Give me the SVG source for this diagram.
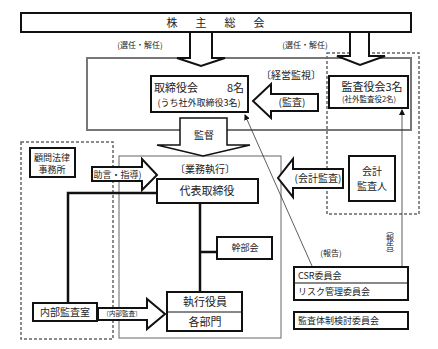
<svg xmlns="http://www.w3.org/2000/svg" width="438" height="349" viewBox="0 0 438 349">
<style>
text{font-family:"Noto Sans CJK JP","Noto Sans",sans-serif;fill:#222;}
.n{fill:#fff;stroke:#111;stroke-width:2;}
.arr{fill:#fff;stroke:#111;stroke-width:2;stroke-linejoin:miter;}
.area{fill:none;stroke:#777;stroke-width:2;}
.area2{fill:none;stroke:#666;stroke-width:1;}
.dot{fill:none;stroke:#666;stroke-width:1.5;stroke-dasharray:3 2;}
.ln{fill:none;stroke:#111;stroke-width:2.5;}
.thin{fill:none;stroke:#333;stroke-width:0.8;}
.t11{font-size:11px;}
.t10{font-size:10px;}
.t9{font-size:9px;}
.t8{font-size:8px;}
.t7{font-size:6.5px;}
</style>
<defs>
<marker id="ah" markerWidth="6" markerHeight="6" refX="5" refY="3" orient="auto" markerUnits="userSpaceOnUse">
<path d="M0,0 L6,3 L0,6 z" fill="#111"/>
</marker>
</defs>
<rect width="438" height="349" fill="#fff"/>

<g id="areas">
<rect class="area" x="87" y="58" width="324" height="72"/>
<rect class="area2" x="119" y="156" width="162" height="182"/>
<rect class="dot" x="327" y="53" width="92" height="161"/>
<rect class="dot" x="21" y="142" width="92" height="197"/>
</g>

<g id="connectors">
<polyline class="ln" points="157,193 68,193 68,303"/>
<line class="ln" x1="200" y1="203" x2="200" y2="292"/>
<line class="ln" x1="200" y1="252" x2="217" y2="252"/>
<line class="thin" x1="312" y1="266" x2="245" y2="115" marker-end="url(#ah)"/>
<line class="thin" x1="402" y1="266" x2="402" y2="110" marker-end="url(#ah)"/>
<text class="t8" x="331" y="256" text-anchor="middle">(報告)</text>
<text class="t8" x="390" y="226" style="writing-mode:vertical-rl">（報告）</text>
</g>

<g id="arrows">
<polygon class="arr" points="190,32 212,32 212,58 225,58 201,66 177,58 190,58"/>
<text class="t8" x="140" y="48" text-anchor="middle">(選任・解任)</text>
<polygon class="arr" points="350,32 369,32 369,56 385,56 360,65 337,56 350,56"/>
<text class="t8" x="305" y="48" text-anchor="middle">(選任・解任)</text>
<polygon class="arr" points="318,94 271,94 271,84 253,101 271,118 271,111 318,111"/>
<text class="t10" x="292" y="106" text-anchor="middle">(監査)</text>
<text class="t10" x="291" y="79" text-anchor="middle">〔経営監視〕</text>
<polygon class="arr" points="180,118 227,118 227,145 250,145 203,156 157,145 180,145" style="stroke-width:1.5"/>
<text class="t10" x="204" y="139" text-anchor="middle">監督</text>
<polygon class="arr" points="92,167 142,167 142,159 157,175 142,190 142,181 92,181"/>
<text class="t9" x="116" y="178" text-anchor="middle">(助言・指導)</text>
<polygon class="arr" points="343,169 293,169 293,159 278,178 293,197 293,188 343,188"/>
<text class="t10" x="318" y="182" text-anchor="middle">(会計監査)</text>
<polygon class="arr" points="98,308 147,308 147,299 165,314 147,329 147,320 98,320"/>
<text class="t7" x="122" y="316" text-anchor="middle">〔内部監査〕</text>
</g>

<g id="kabunushi">
<rect class="n" x="21" y="13" width="390" height="19"/>
<text class="t11" y="27" x="172 201 230 259" text-anchor="middle">株主総会</text>
</g>

<g id="torishimari">
<rect class="n" x="151" y="76" width="97" height="36"/>
<text class="t11" x="154" y="92">取締役会</text>
<text class="t11" x="244" y="92" text-anchor="end">8名</text>
<text class="t9" x="199" y="106" text-anchor="middle">(うち社外取締役3名)</text>
</g>

<g id="kansayaku">
<rect class="n" x="329" y="76" width="79" height="32"/>
<text class="t11" x="372" y="91" text-anchor="middle">監査役会3名</text>
<text class="t7" x="369" y="102" text-anchor="middle" style="font-size:7.5px">(社外監査役2名)</text>
</g>

<g id="gyomu-label">
<text class="t10" x="205" y="173" text-anchor="middle">〔業務執行〕</text>
</g>

<g id="daihyo">
<rect class="n" x="157" y="179" width="101" height="24"/>
<text class="t11" x="207" y="195" text-anchor="middle">代表取締役</text>
</g>

<g id="komon">
<rect class="n" x="30" y="148" width="45" height="29"/>
<text class="t9" x="52" y="161" text-anchor="middle">顧問法律</text>
<text class="t9" x="52" y="173" text-anchor="middle">事務所</text>
</g>

<g id="kaikei">
<rect class="n" x="349" y="156" width="46" height="45"/>
<text class="t10" x="372" y="175" text-anchor="middle">会計</text>
<text class="t10" x="372" y="190" text-anchor="middle">監査人</text>
</g>

<g id="kanbukai">
<rect class="n" x="217" y="237" width="55" height="22"/>
<text class="t9" x="245" y="251" text-anchor="middle">幹部会</text>
</g>

<g id="naibu">
<rect class="n" x="33" y="303" width="64" height="18"/>
<text class="t10" x="65" y="316" text-anchor="middle">内部監査室</text>
</g>

<g id="shikko">
<rect class="n" x="167" y="292" width="75" height="39"/>
<line x1="167" y1="312" x2="242" y2="312" stroke="#111" stroke-width="1"/>
<text class="t11" x="205" y="306" text-anchor="middle">執行役員</text>
<text class="t11" x="205" y="326" text-anchor="middle">各部門</text>
</g>

<g id="csr">
<rect class="n" x="294" y="267" width="114" height="33"/>
<line x1="294" y1="283" x2="408" y2="283" stroke="#111" stroke-width="1"/>
<text class="t9" x="298" y="279">CSR委員会</text>
<text class="t9" x="298" y="295">リスク管理委員会</text>
</g>

<g id="kansataisei">
<rect class="n" x="294" y="312" width="114" height="17"/>
<text class="t9" x="298" y="324">監査体制検討委員会</text>
</g>
</svg>
